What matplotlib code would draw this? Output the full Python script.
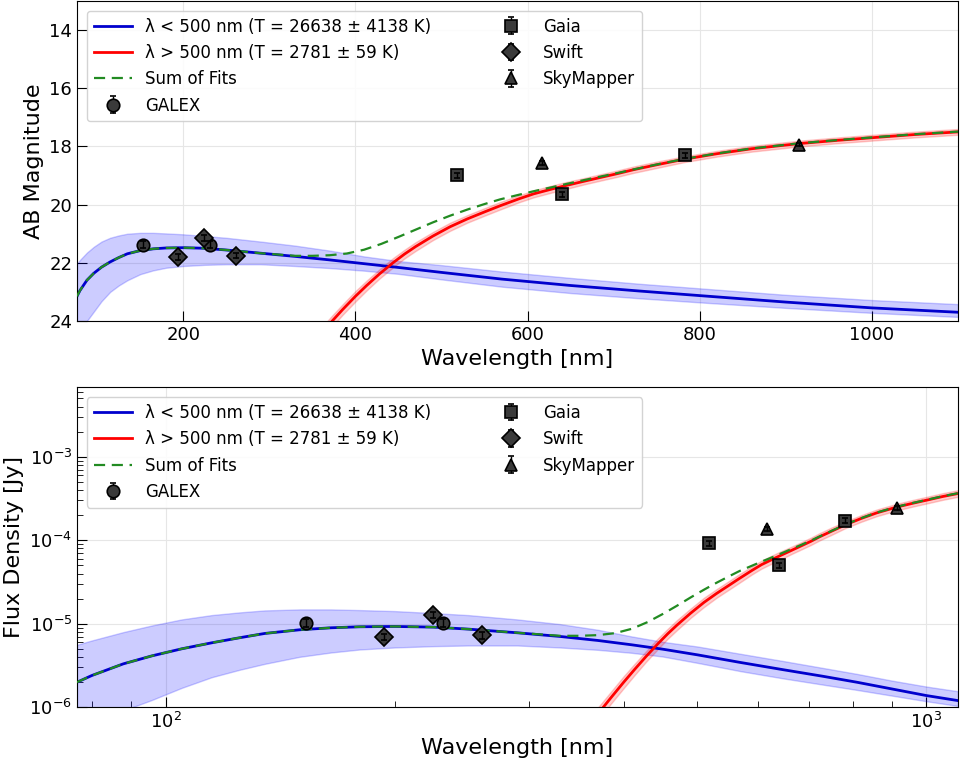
import numpy as np
import matplotlib
matplotlib.use("Agg")
import matplotlib.pyplot as plt

# photometry (AB magnitudes)
galex_wl = [153.2, 231.3]
galex_mag = [21.38, 21.38]
galex_err = [0.12, 0.12]

swift_wl = [193.4, 224.4, 260.7]
swift_mag = [21.80, 21.14, 21.75]
swift_err = [0.10, 0.10, 0.10]

gaia_wl = [518.5, 639.7, 782.5]
gaia_mag = [18.99, 19.65, 18.31]
gaia_err = [0.08, 0.08, 0.08]

sky_wl = [617.2, 915.6]
sky_mag = [18.57, 17.94]
sky_err = [0.06, 0.06]

# hot component fit (lambda < 500 nm) and its band
blue_wl = [76.5, 80, 88, 96, 105, 115, 125, 135, 150, 165, 180, 200, 225, 250,
           290, 330, 370, 410, 450, 500, 570, 650, 730, 810, 900, 1000, 1100]
blue_mag = [23.15, 22.95, 22.60, 22.36, 22.15, 21.97, 21.82, 21.69, 21.58, 21.52,
            21.49, 21.48, 21.50, 21.56, 21.67, 21.78, 21.90, 22.03, 22.16, 22.33,
            22.56, 22.78, 22.97, 23.15, 23.35, 23.55, 23.70]
blue_hi = [22.03, 21.90, 21.65, 21.45, 21.27, 21.14, 21.06, 21.00, 20.97, 20.97,
           20.99, 21.02, 21.08, 21.14, 21.27, 21.41, 21.58, 21.78, 21.94, 22.08,
           22.30, 22.52, 22.72, 22.90, 23.10, 23.28, 23.42]
blue_lo = [24.60, 24.35, 24.00, 23.68, 23.32, 23.00, 22.78, 22.60, 22.39, 22.26,
           22.17, 22.11, 22.07, 22.05, 22.05, 22.11, 22.18, 22.27, 22.38, 22.57,
           22.82, 23.04, 23.22, 23.38, 23.55, 23.72, 23.86]

# cool component fit (lambda > 500 nm) and its band half width
red_wl = [355, 373, 385, 400, 413, 428, 444, 457, 470, 490, 510, 530, 550, 568,
          590, 607, 630, 645, 665, 684, 705, 723, 750, 782, 820, 860, 916, 960,
          1009, 1050, 1100]
red_mag = [24.60, 24.00, 23.61, 23.15, 22.78, 22.38, 21.99, 21.70, 21.44, 21.08,
           20.76, 20.49, 20.25, 20.04, 19.80, 19.63, 19.45, 19.34, 19.20, 19.07,
           18.93, 18.80, 18.63, 18.44, 18.25, 18.08, 17.90, 17.79, 17.68, 17.59,
           17.50]
red_err = [0.19, 0.19, 0.18, 0.18, 0.17, 0.16, 0.16, 0.15, 0.15, 0.14, 0.14, 0.13,
           0.13, 0.13, 0.12, 0.12, 0.12, 0.12, 0.11, 0.11, 0.11, 0.11, 0.11, 0.10,
           0.10, 0.10, 0.10, 0.10, 0.10, 0.10, 0.10]

# sum of both fits
sum_wl = [76.5, 80, 88, 96, 105, 115, 125, 135, 150, 165, 180, 200, 225, 250, 290,
          330, 350, 370, 390, 410, 430, 450, 470, 490, 510, 530, 550, 568, 590,
          607, 630, 645, 665, 684, 705, 723, 750, 782, 820, 860, 916, 960, 1009,
          1050, 1100]
sum_mag = [23.15, 22.95, 22.60, 22.36, 22.15, 21.97, 21.82, 21.69, 21.58, 21.52,
           21.49, 21.48, 21.50, 21.56, 21.67, 21.76, 21.76, 21.74, 21.68, 21.55,
           21.35, 21.11, 20.86, 20.61, 20.38, 20.17, 19.98, 19.82, 19.66, 19.54,
           19.39, 19.29, 19.16, 19.04, 18.91, 18.79, 18.62, 18.43, 18.24, 18.07,
           17.89, 17.78, 17.67, 17.58, 17.49]

blue_label = "λ < 500 nm (T = 26638 ± 4138 K)"
red_label = "λ > 500 nm (T = 2781 ± 59 K)"


def ab_to_jy(mag):
    return 3631.0 * 10 ** (-0.4 * np.asarray(mag))


def draw(ax, flux):
    # flux=True -> plot in Jy, otherwise AB magnitudes
    conv = ab_to_jy if flux else np.asarray
    rm = np.asarray(red_mag)
    re = np.asarray(red_err)

    ax.fill_between(blue_wl, conv(blue_lo), conv(blue_hi), color="blue",
                    alpha=0.2, lw=1, zorder=1)
    ax.fill_between(red_wl, conv(rm + re), conv(rm - re), color="red",
                    alpha=0.2, lw=1, zorder=1)
    ax.plot(blue_wl, conv(blue_mag), color="mediumblue", lw=2, label=blue_label, zorder=2)
    ax.plot(red_wl, conv(red_mag), color="red", lw=2, label=red_label, zorder=2)
    ax.plot(sum_wl, conv(sum_mag), "--", color="forestgreen", lw=1.6,
            dashes=(5, 3), label="Sum of Fits", zorder=3)

    sets = [(galex_wl, galex_mag, galex_err, "o", "GALEX"),
            (gaia_wl, gaia_mag, gaia_err, "s", "Gaia"),
            (swift_wl, swift_mag, swift_err, "D", "Swift"),
            (sky_wl, sky_mag, sky_err, "^", "SkyMapper")]
    for wl, mag, err, mk, name in sets:
        mag = np.asarray(mag)
        err = np.asarray(err)
        if flux:
            y = ab_to_jy(mag)
            yerr = [y - ab_to_jy(mag + err), ab_to_jy(mag - err) - y]
        else:
            y = mag
            yerr = err
        ax.errorbar(wl, y, yerr=yerr, fmt=mk, ms=9, mfc="#3a3a3a", mec="black",
                    mew=1.2, ecolor="black", elinewidth=1, capsize=2.5,
                    barsabove=True, label=name, zorder=4)

    ax.set_xlim(76.5, 1100)
    ax.grid(True, color="#e6e6e6", lw=0.8, zorder=0)
    ax.set_axisbelow(True)
    ax.tick_params(direction="in", which="major", length=7, labelsize=13)
    ax.tick_params(direction="in", which="minor", length=4)
    ax.set_xlabel("Wavelength [nm]", fontsize=16)
    ax.legend(loc="upper left", ncol=2, fontsize=12, framealpha=0.85,
              edgecolor="#cccccc", handlelength=2.3, columnspacing=3.6,
              borderaxespad=0.6)


fig = plt.figure(figsize=(9.6, 7.61), dpi=100)
ax1 = fig.add_axes([0.0802, 0.5782, 0.9177, 0.4205])
ax2 = fig.add_axes([0.0802, 0.0706, 0.9177, 0.4205])

draw(ax1, False)
ax1.set_ylim(24, 13)
ax1.set_yticks([14, 16, 18, 20, 22, 24])
ax1.set_xticks([200, 400, 600, 800, 1000])
ax1.set_ylabel("AB Magnitude", fontsize=16)

draw(ax2, True)
ax2.set_xscale("log")
ax2.set_yscale("log")
ax2.set_xlim(76.5, 1100)
ax2.set_ylim(1e-6, 6.8e-3)
ax2.set_ylabel("Flux Density [Jy]", fontsize=16)

fig.savefig("out.png", dpi=100)
